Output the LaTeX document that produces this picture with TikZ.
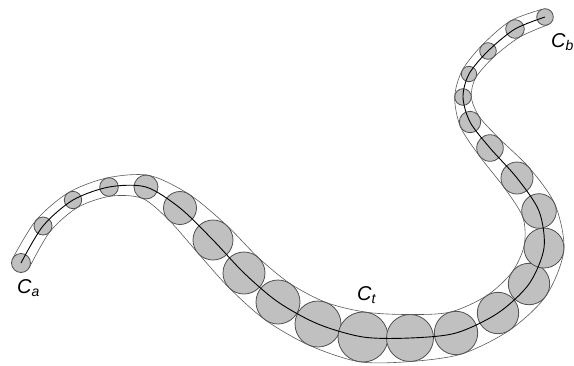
\documentclass[tikz,border=0pt]{standalone}
\usepackage{fontspec}
\setsansfont{Liberation Sans}
\usepackage{xcolor}
\usepackage{tikz}
\definecolor{diskFill}{HTML}{C0C0C0}
\definecolor{diskLine}{HTML}{505050}
\definecolor{hullLine}{HTML}{5A5A5A}
\usetikzlibrary{calc}

% x / y / radius of each disk, in pixels
\def\disklist{21/263/9.5, 43/226/9, 73/200/8.7, 109/187/9.3, 146/187/12,
  180/208/16.5, 213/240/20, 244/273/21, 278/302/22, 318/324/23,
  363/337/25, 410/338/23.5, 456/333/21.7, 498/313/20.7, 529/284/20.7,
  544/248/20, 539/211/17.3, 517/178/16, 490/148/13.3, 470/122/10.7,
  463/97/8.3, 469/74/7.7, 488/51/8.3, 515/29/9.3, 545/17/8.3}

\begin{document}
\begin{tikzpicture}[
  x=1pt, y=-1pt,
  disk/.style={fill=diskFill, draw=diskLine, line width=0.8pt},
  envelope/.style={draw=hullLine, line width=0.6pt},
  spine/.style={draw=black, line width=0.9pt},
  curvelabel/.style={font=\sffamily\itshape\fontsize{20}{24}\selectfont, anchor=base west, inner sep=0pt}
]
\useasboundingbox (0,0) rectangle (574,365);

% centres
\foreach \cx/\cy/\rr [count=\i] in \disklist {
  \coordinate (c\i) at (\cx,\cy);
}
\coordinate (c0) at (c1);
\coordinate (c26) at (c25);

% side points of the tube
\foreach \cx/\cy/\rr [count=\i] in \disklist {
  \pgfmathtruncatemacro\ip{\i-1}
  \pgfmathtruncatemacro\inx{\i+1}
  \path let \p1=(c\ip), \p2=(c\inx), \n1={atan2(\y2-\y1,\x2-\x1)} in
    coordinate (u\i) at ($(c\i)+(\n1+90:\rr pt)$)
    coordinate (l\i) at ($(c\i)+(\n1-90:\rr pt)$);
}

% disks
\foreach \cx/\cy/\rr [count=\i] in \disklist {
  \path[disk] (c\i) circle[radius=\rr pt];
}

% Curves
\draw[envelope] plot[smooth, samples at={1,...,25}] (u\x);
\draw[envelope] plot[smooth, samples at={1,...,25}] (l\x);
\draw[spine] plot[smooth, samples at={1,...,25}] (c\x);

\node[curvelabel] (ca) at (17,293) {C\textsubscript{a}};
\node[curvelabel] (ct) at (357,300) {C\textsubscript{t}};
\node[curvelabel] (cb) at (551,47) {C\textsubscript{b}};

\end{tikzpicture}
\end{document}
